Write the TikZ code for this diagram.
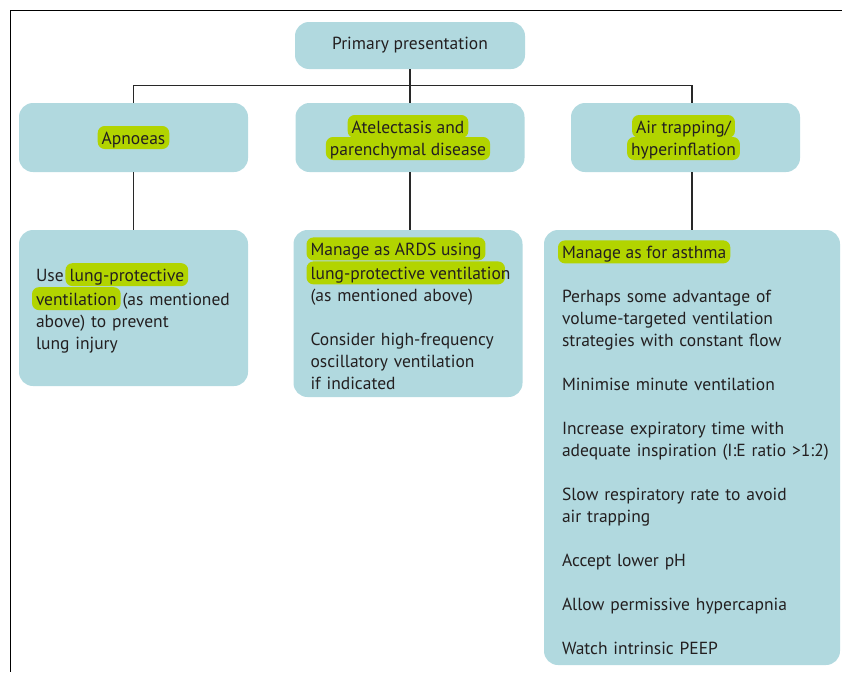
\documentclass[tikz,border=0pt]{standalone}
\usepackage{fontspec}
\setmainfont{PT Sans}
\usepackage{xcolor}
\usetikzlibrary{positioning, calc}
\definecolor{cbox}{RGB}{177,217,223}
\definecolor{cmark}{RGB}{178,212,0}
\definecolor{cline}{RGB}{40,40,40}
\definecolor{ctext}{RGB}{35,31,32}
\lineskiplimit=-30pt
% highlighted words (marker look)
\newcommand{\hlt}[1]{\hspace{-4pt}\tikz[baseline=(hl.base)]\node[hl](hl){#1};\hspace{-4pt}}

\begin{document}
\begin{tikzpicture}[
  x=1pt, y=-1pt,
  txt/.style  = {font=\fontsize{17.5}{22}\selectfont, text=ctext},
  box/.style  = {rectangle, rounded corners=14pt, fill=cbox, inner sep=0pt,
                 minimum width=229pt, minimum height=69pt, align=center, txt},
  leaf/.style = {box, text width=#1, align=left},
  hl/.style   = {rectangle, fill=cmark, rounded corners=7pt, inner xsep=4pt,
                 inner ysep=3pt, text height=15pt, text depth=2pt,
                 minimum width=0pt, minimum height=0pt, text width={}, align=none},
  conn/.style = {draw=cline, line width=1.4pt},
]
\useasboundingbox (0,0) rectangle (842,672);
% frame
\draw[line width=1.2pt] (842,10.5) -- (10.5,10.5) -- (10.5,672);
% Row 1: root
\node[box, minimum width=230pt, minimum height=47pt] (prim) at (410,45.5) {Primary presentation};
% Row 2: presentations
\node[box] (apn) at (133.5,137.5) {\hlt{Apnoeas}};
\node[box] (ate) at (410,137.5)   {\hlt{Atelectasis and}\\\hlt{parenchymal disease}};
\node[box] (air) at (685.5,137.5) {\hlt{Air trapping/}\\\hlt{hyperinflation}};
% Row 3: management
\node[leaf=195pt, inner xsep=17pt, minimum height=156pt] (use) at (133.5,308)
  {Use \hlt{lung-protective}\\\mbox{\hlt{ventilation} (as mentioned}\\above) to prevent\\lung injury};
\node[leaf=195pt, inner xsep=17pt, minimum height=167pt] (ards) at (408,313.5)
  {\hlt{Manage as ARDS using}\\\mbox{\hlt{lung-protective ventilatio}n}\\(as mentioned above)\\[22pt]
   Consider high-frequency\\oscillatory ventilation\\if indicated};
\node[leaf=260pt, inner xsep=18pt, minimum width=296pt, minimum height=435pt] (asth) at (692,447.5)
  {\hlt{Manage as for asthma}\\[22pt]
   Perhaps some advantage of\\volume-targeted ventilation\\strategies with constant flow\\[22pt]
   Minimise minute ventilation\\[22pt]
   Increase expiratory time with\\\mbox{adequate inspiration (I:E ratio >1:2)}\\[22pt]
   Slow respiratory rate to avoid\\air trapping\\[22pt]
   Accept lower pH\\[22pt]
   Allow permissive hypercapnia\\[22pt]
   Watch intrinsic PEEP};
% Connectors
\coordinate (hub) at ($(prim.south)+(0,16)$);
\draw[conn] (prim.south) -- (ate.north);
\draw[conn] (apn.north) |- (hub) -| (asth.north |- air.north);
\draw[conn] (apn) -- (use);
\draw[conn] (ate) -- (ate |- ards.north);
\draw[conn] (asth.north |- air.south) -- (asth.north);
\end{tikzpicture}
\end{document}
